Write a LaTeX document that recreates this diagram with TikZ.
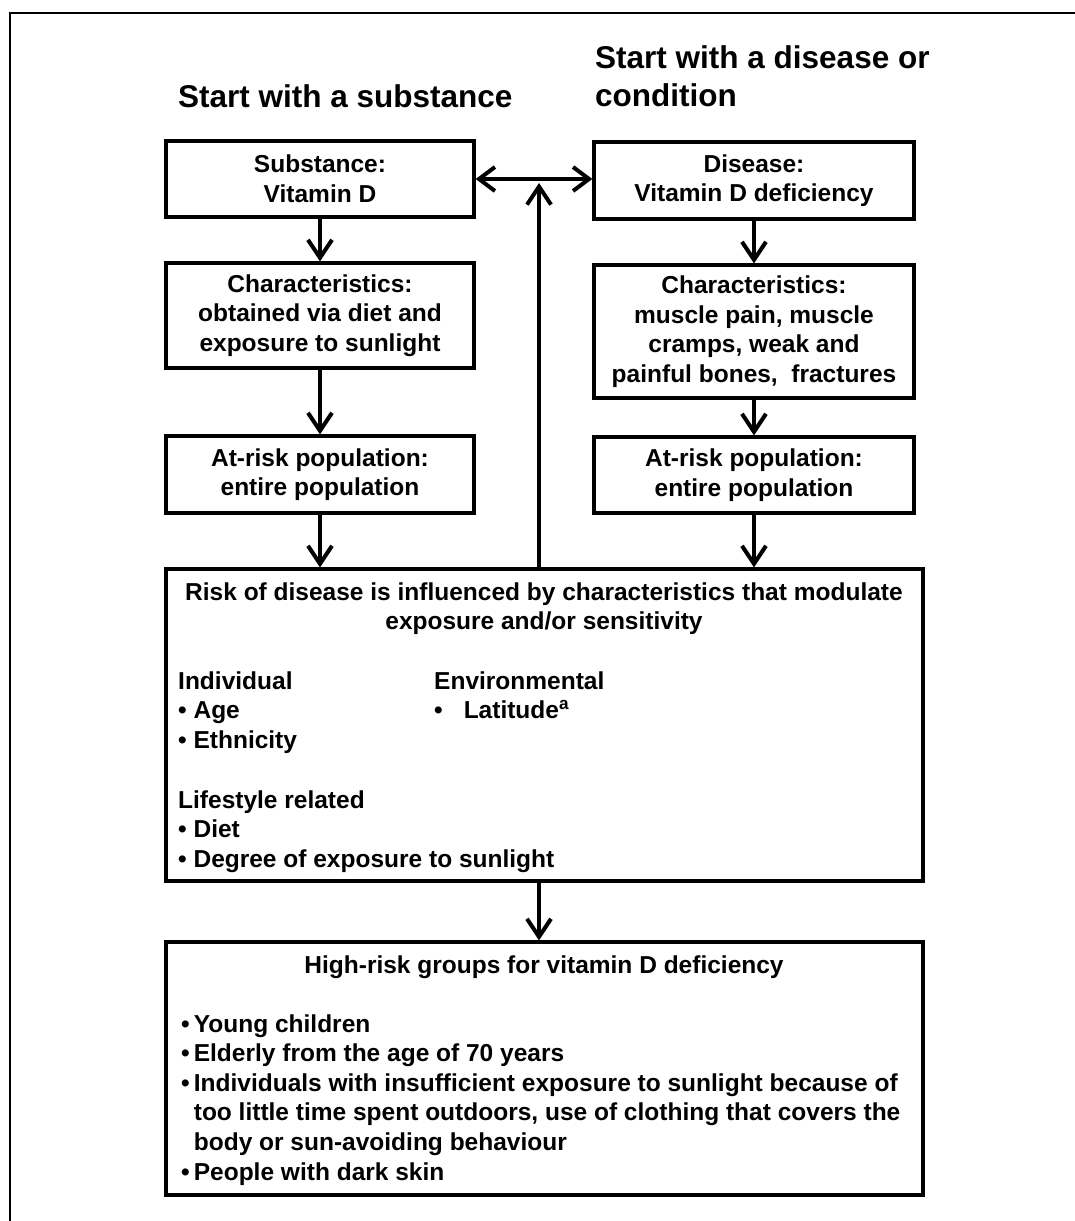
\documentclass[tikz,border=0pt]{standalone}
\usepackage{fontspec}
\setmainfont{Liberation Sans}
\usetikzlibrary{arrows.meta}

\newcommand{\bxfont}{\fontsize{24.5}{29.6}\selectfont\bfseries}
\newcommand{\ttlfont}{\fontsize{31.5}{38}\selectfont\bfseries}

\tikzset{
  box/.style={draw, line width=3.2pt, align=center, inner sep=0pt, font=\bxfont},
  flow/.style={line width=4pt, -{Straight Barb[length=18pt,width=24pt]}},
  both/.style={line width=4pt, {Straight Barb[length=16pt,width=24pt]}-{Straight Barb[length=16pt,width=24pt]}},
  txt/.style={anchor=base west, inner sep=0pt, font=\bxfont},
  mid/.style={anchor=base, inner sep=0pt, font=\bxfont}
}

\begin{document}
\begin{tikzpicture}[x=1pt,y=-1pt]
    \useasboundingbox (0,0) rectangle (1075,1221);
    \draw[line width=2.2pt] (10,1221) -- (10,13) -- (1075,13); % frame, open at right and bottom
    \node[anchor=base west, inner sep=0pt, font=\ttlfont] (ttlsub) at (178,107) {Start with a substance};
    \node[anchor=north west, inner sep=0pt, font=\ttlfont, align=left] (ttldis) at (595,45) {Start with a disease or\\condition};
    % left column
    \node[box, minimum width=308, minimum height=76] (sub) at (320,179) {Substance:\\Vitamin D};
    \node[box, minimum width=308, minimum height=105] (charl) at (320,315.5) {Characteristics:\\obtained via diet and\\exposure to sunlight};
    \node[box, minimum width=308, minimum height=77] (riskl) at (320,474.5) {At-risk population:\\entire population};
    % right column
    \node[box, minimum width=320, minimum height=77] (dis) at (754,180.5) {Disease:\\Vitamin D deficiency};
    \node[box, minimum width=320, minimum height=133] (charr) at (754,331.5) {Characteristics:\\muscle pain, muscle\\cramps, weak and\\painful bones,\ \ fractures};
    \node[box, minimum width=320, minimum height=76] (riskr) at (754,475) {At-risk population:\\entire population};
    % big boxes
    \node[box, minimum width=757, minimum height=312] (main) at (544.5,725) {};
    \node[box, minimum width=757, minimum height=253] (high) at (544.5,1068.5) {};
    \coordinate (spine) at (539,183);
    % text in main box
    \node[mid] (hd1) at (544,600) {Risk of disease is influenced by characteristics that modulate};
    \node[mid] (hd2) at (544,629) {exposure and/or sensitivity};
    \foreach \ln [count=\i from 0] in {Individual, \textbullet\ Age, \textbullet\ Ethnicity}
    \node[txt] (ind\i) at (178,689+29.6*\i) {\ln};
    \foreach \ln [count=\i from 0] in {Lifestyle related, \textbullet\ Diet, \textbullet\ Degree of exposure to sunlight}
    \node[txt] (life\i) at (178,808+29.6*\i) {\ln};
    \node[txt] (env0) at (434,689) {Environmental};
    \node[txt] (env1) at (434,718.6) {\textbullet\hspace{21pt}Latitude\textsuperscript{a}};
    % text in bottom box
    \node[mid] (hrtitle) at (544,973) {High-risk groups for vitamin D deficiency};
    \foreach \ln [count=\i from 0] in {\textbullet\,Young children, \textbullet\,Elderly\ from the age of 70 years,
      \textbullet\,Individuals with insufficient exposure to sunlight because of,
      {\hphantom{\textbullet\,}too little time spent outdoors, use of clothing that covers the},
      \hphantom{\textbullet\,}body or sun-avoiding behaviour, \textbullet\,People with dark skin}
    \node[txt] (grp\i) at (181,1032+29.6*\i) {\ln};
    % connectors
    \draw[flow] (sub) -- (charl);
    \draw[flow] (charl) -- (riskl);
    \draw[flow] (riskl.south) -- (riskl.south |- main.north);
    \draw[flow] (dis) -- (charr);
    \draw[flow] (charr) -- (riskr);
    \draw[flow] (riskr.south) -- (riskr.south |- main.north);
    \draw[both] (sub.east) -- (sub.east -| dis.west);
    \draw[flow] (spine |- main.north) -- (spine);
    \draw[flow] (spine |- main.south) -- (spine |- high.north);
\end{tikzpicture}
\end{document}
